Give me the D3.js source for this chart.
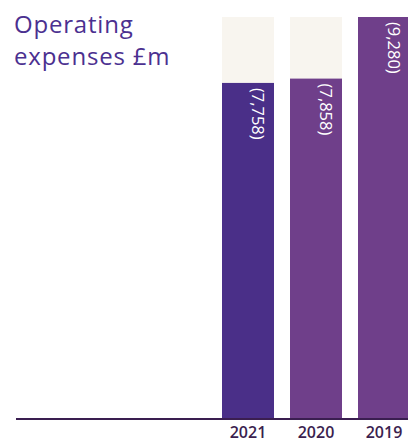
<!DOCTYPE html>
<html>
<head>
<meta charset="utf-8">
<script src="https://cdn.jsdelivr.net/npm/d3@7"></script>
<style>
  html, body { margin: 0; padding: 0; background: #ffffff; }
  svg { display: block; }
</style>
</head>
<body>
<svg id="chart" width="408" height="443"></svg>
<script>
// Operating expenses by year, £m
const years = ["2021", "2020", "2019"];
const values = [7758, 7858, 9280];
const valueLabels = ["(7,758)", "(7,858)", "(9,280)"];
const barColors = ["#4a2f88", "#6f3f8a", "#6f3f8a"];
const titleLines = ["Operating", "expenses £m"];

const svg = d3.select("#chart");
const W = 408, H = 443;
const baseline = 419;
const plotTop = 17;
const font = "'Open Sans', 'Noto Sans', sans-serif";

// three 52px bars on a 68px step; the last one runs past the right edge
const x = d3.scaleBand()
  .domain(years)
  .range([222, 410])
  .paddingInner(16 / 68)
  .paddingOuter(0);

const y = d3.scaleLinear()
  .domain([0, d3.max(values)])
  .range([baseline, plotTop]);

// background track behind each bar
svg.selectAll("rect.track")
  .data(years)
  .join("rect")
  .attr("class", "track")
  .attr("x", d => x(d))
  .attr("y", y(d3.max(values)))
  .attr("width", x.bandwidth())
  .attr("height", baseline - y(d3.max(values)))
  .attr("fill", "#f8f5ef");

// bars
svg.selectAll("rect.bar")
  .data(values)
  .join("rect")
  .attr("class", "bar")
  .attr("x", (d, i) => x(years[i]))
  .attr("y", d => y(d))
  .attr("width", x.bandwidth())
  .attr("height", d => baseline - y(d))
  .attr("fill", (d, i) => barColors[i]);

// value labels, rotated, reading downward
svg.selectAll("text.val")
  .data(values)
  .join("text")
  .attr("class", "val")
  .attr("transform", (d, i) => `translate(${x(years[i]) + 30},${y(d) + 5}) rotate(90)`)
  .attr("font-family", font)
  .attr("font-size", 16.5)
  .attr("fill", "#ffffff")
  .attr("text-anchor", "start")
  .text((d, i) => valueLabels[i]);

// baseline axis
svg.append("line")
  .attr("x1", 16).attr("x2", W)
  .attr("y1", baseline).attr("y2", baseline)
  .attr("stroke", "#3a1e50")
  .attr("stroke-width", 2);

// year labels
const xAxis = d3.axisBottom(x).tickSize(0).tickPadding(0);
const gx = svg.append("g")
  .attr("transform", `translate(0,${baseline})`)
  .call(xAxis);
gx.select(".domain").remove();
gx.selectAll("text")
  .attr("y", 19)
  .attr("dy", 0)
  .attr("font-family", font)
  .attr("font-size", 16)
  .attr("font-weight", 600)
  .attr("fill", "#3b1f4f");

// title
svg.append("text")
  .attr("font-family", font)
  .attr("font-size", 24)
  .attr("letter-spacing", 0.8)
  .attr("fill", "#4b3090")
  .selectAll("tspan")
  .data(titleLines)
  .join("tspan")
  .attr("x", 14)
  .attr("y", (d, i) => 33 + i * 32)
  .text(d => d);
</script>
</body>
</html>
